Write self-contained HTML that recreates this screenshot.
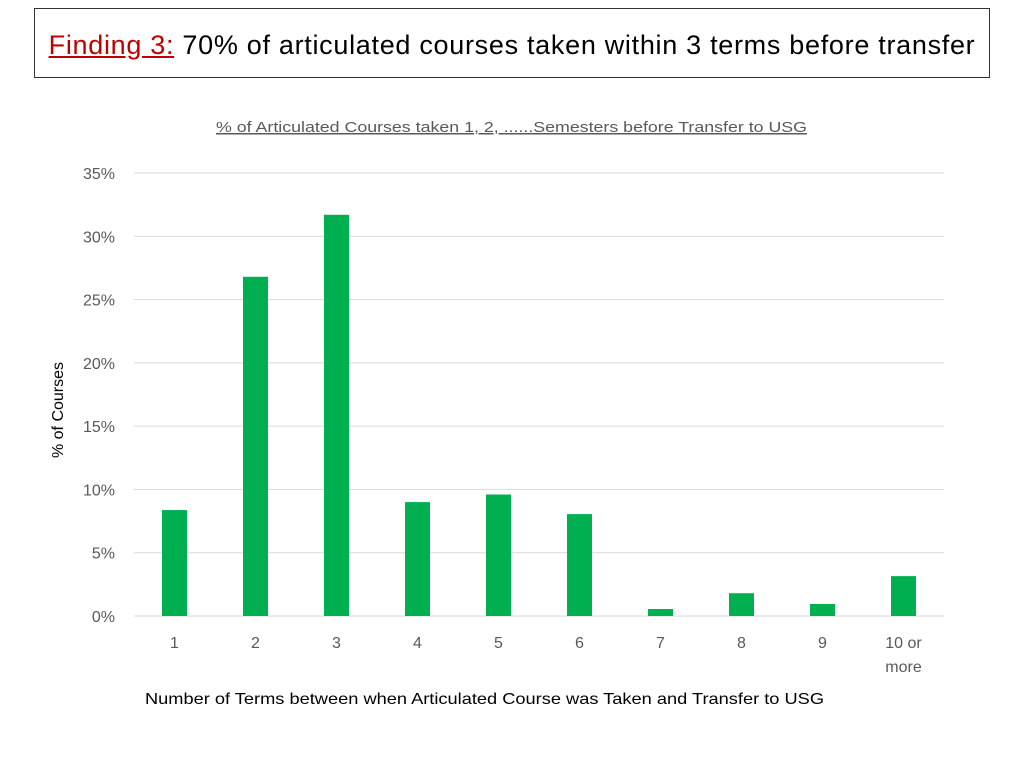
<!DOCTYPE html>
<html><head><meta charset="utf-8"><style>
body{margin:0;background:#fff;font-family:"Liberation Sans",sans-serif;}
#title-box{position:absolute;left:34px;top:8px;width:956px;height:70px;border:1.5px solid #333;box-sizing:border-box;}
#title{position:absolute;left:0;top:2px;width:100%;height:68px;line-height:68px;text-align:center;font-size:27px;color:#000;letter-spacing:0.7px;white-space:nowrap;}
#title .red{color:#c00000;text-decoration:underline;}
</style></head><body>
<div id="title-box">
<div id="title"><span class="red">Finding 3:</span> 70% of articulated courses taken within 3 terms before transfer</div>
</div>
<svg id="chart" width="1024" height="768" style="position:absolute;left:0;top:0">
<text x="216" y="132" textLength="591" lengthAdjust="spacingAndGlyphs" font-size="15" fill="#595959" text-decoration="underline">% of Articulated Courses taken 1, 2, ......Semesters before Transfer to USG</text>
<text transform="translate(63,410) rotate(-90)" text-anchor="middle" font-size="16" fill="#000">% of Courses</text>
<text x="145" y="704" textLength="679" lengthAdjust="spacingAndGlyphs" font-size="16" fill="#000">Number of Terms between when Articulated Course was Taken and Transfer to USG</text>
<g id="grid"></g><g id="bars"></g><g id="labels"></g>
</svg>
<script>
const categories=["1","2","3","4","5","6","7","8","9","10 or|more"];
const values=[8.37,26.8,31.7,9.0,9.6,8.05,0.55,1.8,0.95,3.15];
const ticks=[0,5,10,15,20,25,30,35];
const ns="http://www.w3.org/2000/svg";
const x0=134,x1=944,y0=616,y35=173;
const y=v=>y0-(v/35)*(y0-y35);
const bw=(x1-x0)/categories.length;
const g=document.getElementById('grid'),b=document.getElementById('bars'),l=document.getElementById('labels');
function mk(t,a,p){const e=document.createElementNS(ns,t);for(const k in a)e.setAttribute(k,a[k]);p.appendChild(e);return e;}
ticks.forEach(t=>{
 const ln=mk('line',{x1:x0,x2:x1,y1:y(t),y2:y(t),stroke:'#d9d9d9','stroke-width':1},g);
 
 
 const tx=mk('text',{x:115,y:y(t)+6,'text-anchor':'end','font-size':16,fill:'#595959'},l);
 tx.textContent=t+'%';
 
 
});
categories.forEach((c,i)=>{
 const cx=x0+bw*(i+0.5);
 const r=mk('rect',{x:cx-12.5,y:y(values[i]),width:25,height:y0-y(values[i]),fill:'#00b050'},b);
 
 
 c.split('|').forEach((p,j)=>{
  const tx=mk('text',{x:cx,y:648+j*24,'text-anchor':'middle','font-size':16,fill:'#595959'},l);
  tx.textContent=p;
  
  
 });
});
</script>
</body></html>
